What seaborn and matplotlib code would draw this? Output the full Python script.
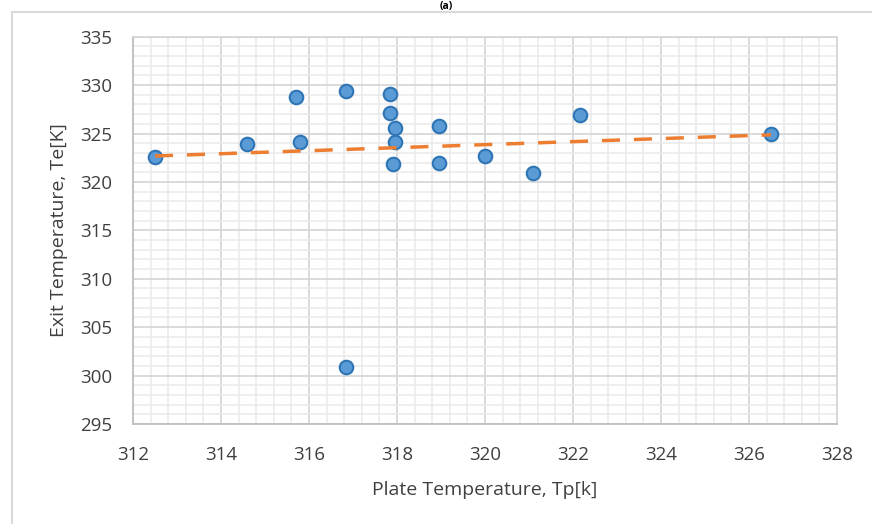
import matplotlib
matplotlib.use("Agg")
import matplotlib.pyplot as plt
from matplotlib.ticker import MultipleLocator
from matplotlib.lines import Line2D
import seaborn as sns
import pandas as pd

# Data
plate_temp = [312.5, 314.6, 315.7, 315.8, 316.85, 316.85, 317.85, 317.85,
              317.95, 317.95, 317.9, 318.95, 318.95, 320.0, 321.1, 322.15, 326.5]
exit_temp = [322.6, 323.9, 328.8, 324.1, 329.4, 300.9, 329.1, 327.1,
             325.6, 324.1, 321.9, 325.8, 322.0, 322.7, 320.9, 326.9, 324.9]

x_ticks = [312, 314, 316, 318, 320, 322, 324, 326, 328]
y_ticks = [295, 300, 305, 310, 315, 320, 325, 330, 335]

df = pd.DataFrame({"Tp": plate_temp, "Te": exit_temp})

sns.set_theme(style="white")
plt.rcParams["font.family"] = ["Open Sans", "DejaVu Sans"]

fig = plt.figure(figsize=(8.72, 5.24), dpi=100)
ax = fig.add_axes([133 / 872, 1 - 424 / 524, (837 - 133) / 872, (424 - 36.7) / 524])

# Grid
ax.set_axisbelow(True)
ax.xaxis.set_major_locator(MultipleLocator(2))
ax.xaxis.set_minor_locator(MultipleLocator(0.4))
ax.yaxis.set_major_locator(MultipleLocator(5))
ax.yaxis.set_minor_locator(MultipleLocator(1))
ax.grid(which="minor", color="#EAEAEA", linewidth=1.1)
ax.grid(which="major", color="#D4D4D4", linewidth=1.2)

sns.scatterplot(data=df, x="Tp", y="Te", ax=ax, s=95, color="#5B9BD5",
                edgecolor="#2E75B6", linewidth=1.5, zorder=3, legend=False)
sns.regplot(data=df, x="Tp", y="Te", ax=ax, scatter=False, ci=None, truncate=True,
            line_kws=dict(color="#ED7D31", linewidth=2.5, dashes=(5.2, 4.0),
                          zorder=4))

ax.set_xlim(312, 328)
ax.set_ylim(295, 335)
ax.set_xticks(x_ticks)
ax.set_yticks(y_ticks)

for side in ["top", "right"]:
    ax.spines[side].set_color("#D4D4D4")
    ax.spines[side].set_linewidth(1.2)
for side in ["left", "bottom"]:
    ax.spines[side].set_color("#BFBFBF")
    ax.spines[side].set_linewidth(1.3)

ax.tick_params(axis="both", which="major", direction="out", length=5, width=1.3,
               color="#BFBFBF", labelsize=13.5, labelcolor="#404040")
ax.tick_params(axis="x", which="major", pad=11)
ax.tick_params(axis="y", which="major", pad=10)
ax.tick_params(axis="both", which="minor", length=0)

ax.set_xlabel("Plate Temperature, Tp[k]", fontsize=14, color="#404040", labelpad=12)
ax.set_ylabel("Exit Temperature, Te[K]", fontsize=14, color="#404040", labelpad=9)

# Outer chart border (left and top visible)
fig.add_artist(Line2D([11.5 / 872, 11.5 / 872], [0, 1 - 11.5 / 524],
                      transform=fig.transFigure, color="#D9D9D9", linewidth=1.5))
fig.add_artist(Line2D([11.5 / 872, 1], [1 - 11.5 / 524, 1 - 11.5 / 524],
                      transform=fig.transFigure, color="#D9D9D9", linewidth=1.5))

# Panel label at the very top
fig.text(446 / 872, 1 - 0.5 / 524, "(a)", ha="center", va="top", fontsize=7.5,
         fontweight="bold", color="#000000")

fig.savefig("out.png", dpi=100)
